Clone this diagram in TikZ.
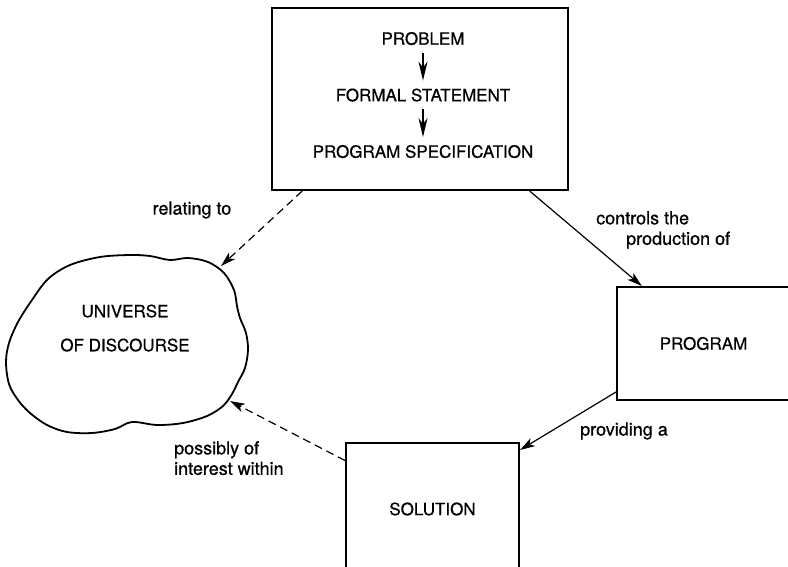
\documentclass[tikz,border=0pt]{standalone}
\usepackage{fontspec}
\setmainfont[FakeBold=0.6]{TeX Gyre Heros}
\usetikzlibrary{arrows.meta, calc}

\begin{document}
\begin{tikzpicture}[x=1pt, y=-1pt,
    stagebox/.style={draw, line width=2pt, font=\fontsize{17}{20}\selectfont},
    capstxt/.style={font=\fontsize{17}{20}\selectfont, inner sep=2pt, text height=12.5pt, text depth=0pt},
    lbl/.style={font=\fontsize{18}{20.5}\selectfont, inner sep=0pt, align=left},
    link/.style={line width=1.2pt, -{Stealth[length=15pt, width=9pt, inset=4pt]}},
    hint/.style={link, dash pattern=on 8pt off 5pt},
    stepdown/.style={line width=1.2pt, shorten <=6pt, shorten >=6pt, -{Stealth[length=19pt, width=9pt, inset=6pt]}}
]
    \useasboundingbox (0,0) rectangle (788,567);
    \clip (0,0) rectangle (788,567);

    % 1. THE SPECIFICATION BOX (top)
    \node[stagebox, minimum width=296pt, minimum height=182pt] (spec) at (420,99) {};
    \node[capstxt] (prob) at (423,38.5) {PROBLEM};
    \node[capstxt] (formal) at (423,95) {FORMAL STATEMENT};
    \node[capstxt] (progspec) at (423,151.5) {PROGRAM SPECIFICATION};
    \foreach \a/\b in {prob/formal, formal/progspec} {
        \draw[stepdown] (\a) -- (\b);
    }

    % 2. PROGRAM AND SOLUTION (cut by the page edge)
    \node[stagebox, minimum width=173pt, minimum height=113pt] (prog) at (703.5,343.5) {PROGRAM};
    \node[stagebox, minimum width=173pt, minimum height=132pt] (sol) at (432.5,509) {SOLUTION};

    % 3. THE UNIVERSE OF DISCOURSE (cloud)
    \draw[line width=1.8pt] plot[smooth cycle, tension=0.55] coordinates {
        (130,255) (100,257) (70,265) (48,279) (32,300) (18,322) (9,343)
        (6,362) (9,384) (18,400) (30,413) (47,425) (67,432) (92,433)
        (115,429) (132,422) (157,425) (183,423) (207,416) (223,406)
        (232,394) (238,382) (245,368) (248,350) (246,333) (240,318)
        (237,306) (234,290) (224,273) (208,262) (188,258) (170,260) (150,256)};
    \node[capstxt, align=center] (universe) at (125,345) {UNIVERSE\\[14pt]OF DISCOURSE};
    \coordinate (cloudNE) at (221,266);
    \coordinate (cloudSE) at (230,401);

    % 4. CONNECTORS AND THEIR LABELS
    \draw[hint] (spec.218.4) -- (cloudNE);
    \node[lbl] (relating) at (192,210) {relating to};

    \draw[link] (spec.320.9) -- (prog.137);
    \node[lbl, anchor=north west] (controls) at (596,211) {controls the\\\hspace*{30pt}production of};

    \draw[link] (prog.209) -- (sol.34);
    \node[lbl, anchor=west] (providing) at (580,431) {providing a};

    \draw[hint] (sol.151.8) -- (cloudSE);
    \node[lbl, anchor=north west] (interest) at (174,441) {possibly of\\interest within};

\end{tikzpicture}
\end{document}
